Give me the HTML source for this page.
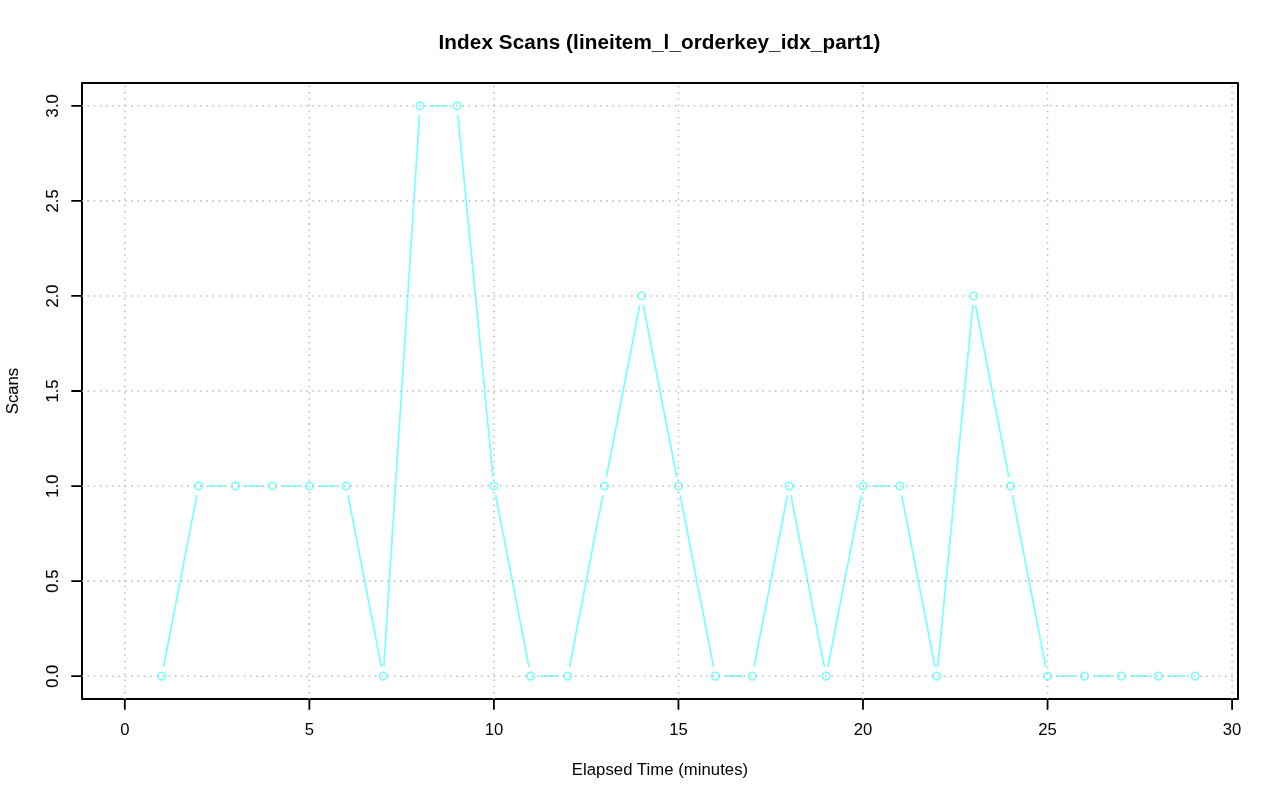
<!DOCTYPE html>
<html lang="en"><head><meta charset="utf-8"><title>Index Scans (lineitem_l_orderkey_idx_part1)</title>
<style>html,body{margin:0;padding:0;background:#fff;overflow:hidden}svg{display:block}text{font-family:'Liberation Sans', Arial, Helvetica, sans-serif;fill:#000}.r{stroke:#000;stroke-width:0.1px}</style></head><body>
<svg width="1280" height="801" viewBox="0 0 1280 801">
<rect width="1280" height="801" fill="#fff"/>
<g stroke="#7FFFFF" stroke-width="1.80" fill="none" stroke-linecap="round">
<line x1="163.63" y1="666.37" x2="196.73" y2="495.88"/>
<line x1="208.63" y1="486.06" x2="225.54" y2="486.06"/>
<line x1="245.54" y1="486.06" x2="262.45" y2="486.06"/>
<line x1="282.45" y1="486.06" x2="299.36" y2="486.06"/>
<line x1="319.36" y1="486.06" x2="336.27" y2="486.06"/>
<line x1="348.18" y1="495.88" x2="381.27" y2="666.37"/>
<line x1="383.83" y1="666.21" x2="419.44" y2="115.79"/>
<line x1="430.09" y1="105.81" x2="447.00" y2="105.81"/>
<line x1="457.96" y1="115.77" x2="492.94" y2="476.11"/>
<line x1="495.81" y1="495.88" x2="528.91" y2="666.37"/>
<line x1="540.82" y1="676.19" x2="557.73" y2="676.19"/>
<line x1="569.63" y1="666.37" x2="602.73" y2="495.88"/>
<line x1="606.54" y1="476.25" x2="639.64" y2="305.75"/>
<line x1="643.45" y1="305.75" x2="676.55" y2="476.25"/>
<line x1="680.36" y1="495.88" x2="713.46" y2="666.37"/>
<line x1="725.36" y1="676.19" x2="742.27" y2="676.19"/>
<line x1="754.18" y1="666.37" x2="787.28" y2="495.88"/>
<line x1="791.09" y1="495.88" x2="824.19" y2="666.37"/>
<line x1="828.00" y1="666.37" x2="861.10" y2="495.88"/>
<line x1="873.00" y1="486.06" x2="889.91" y2="486.06"/>
<line x1="901.82" y1="495.88" x2="934.91" y2="666.37"/>
<line x1="937.79" y1="666.23" x2="972.76" y2="305.89"/>
<line x1="975.64" y1="305.75" x2="1008.73" y2="476.25"/>
<line x1="1012.54" y1="495.88" x2="1045.64" y2="666.37"/>
<line x1="1057.55" y1="676.19" x2="1074.46" y2="676.19"/>
<line x1="1094.46" y1="676.19" x2="1111.37" y2="676.19"/>
<line x1="1131.37" y1="676.19" x2="1148.28" y2="676.19"/>
<line x1="1168.28" y1="676.19" x2="1185.19" y2="676.19"/>
<circle cx="161.72" cy="676.19" r="3.75"/>
<circle cx="198.63" cy="486.06" r="3.75"/>
<circle cx="235.54" cy="486.06" r="3.75"/>
<circle cx="272.45" cy="486.06" r="3.75"/>
<circle cx="309.36" cy="486.06" r="3.75"/>
<circle cx="346.27" cy="486.06" r="3.75"/>
<circle cx="383.18" cy="676.19" r="3.75"/>
<circle cx="420.09" cy="105.81" r="3.75"/>
<circle cx="457.00" cy="105.81" r="3.75"/>
<circle cx="493.91" cy="486.06" r="3.75"/>
<circle cx="530.82" cy="676.19" r="3.75"/>
<circle cx="567.73" cy="676.19" r="3.75"/>
<circle cx="604.64" cy="486.06" r="3.75"/>
<circle cx="641.55" cy="295.94" r="3.75"/>
<circle cx="678.45" cy="486.06" r="3.75"/>
<circle cx="715.36" cy="676.19" r="3.75"/>
<circle cx="752.27" cy="676.19" r="3.75"/>
<circle cx="789.18" cy="486.06" r="3.75"/>
<circle cx="826.09" cy="676.19" r="3.75"/>
<circle cx="863.00" cy="486.06" r="3.75"/>
<circle cx="899.91" cy="486.06" r="3.75"/>
<circle cx="936.82" cy="676.19" r="3.75"/>
<circle cx="973.73" cy="295.94" r="3.75"/>
<circle cx="1010.64" cy="486.06" r="3.75"/>
<circle cx="1047.55" cy="676.19" r="3.75"/>
<circle cx="1084.46" cy="676.19" r="3.75"/>
<circle cx="1121.37" cy="676.19" r="3.75"/>
<circle cx="1158.28" cy="676.19" r="3.75"/>
<circle cx="1195.19" cy="676.19" r="3.75"/>
</g>
<rect x="82" y="83" width="1156" height="616" fill="none" stroke="#000" stroke-width="2.00" stroke-linejoin="round"/>
<g stroke="#000" stroke-width="1.80" stroke-linecap="round" fill="none">
<line x1="124.81" y1="699" x2="1232.09" y2="699"/>
<line x1="124.81" y1="699" x2="124.81" y2="709"/>
<line x1="309.36" y1="699" x2="309.36" y2="709"/>
<line x1="493.91" y1="699" x2="493.91" y2="709"/>
<line x1="678.45" y1="699" x2="678.45" y2="709"/>
<line x1="863.00" y1="699" x2="863.00" y2="709"/>
<line x1="1047.55" y1="699" x2="1047.55" y2="709"/>
<line x1="1232.09" y1="699" x2="1232.09" y2="709"/>
<line x1="82" y1="676.19" x2="82" y2="105.81"/>
<line x1="82" y1="676.19" x2="72" y2="676.19"/>
<line x1="82" y1="581.12" x2="72" y2="581.12"/>
<line x1="82" y1="486.06" x2="72" y2="486.06"/>
<line x1="82" y1="391.00" x2="72" y2="391.00"/>
<line x1="82" y1="295.94" x2="72" y2="295.94"/>
<line x1="82" y1="200.88" x2="72" y2="200.88"/>
<line x1="82" y1="105.81" x2="72" y2="105.81"/>
</g>
<g stroke="#BEBEBE" stroke-width="1.56" fill="none" stroke-dasharray="1.5625 4.6875" stroke-dashoffset="0.78">
<line x1="124.81" y1="699" x2="124.81" y2="83"/>
<line x1="309.36" y1="699" x2="309.36" y2="83"/>
<line x1="493.91" y1="699" x2="493.91" y2="83"/>
<line x1="678.45" y1="699" x2="678.45" y2="83"/>
<line x1="863.00" y1="699" x2="863.00" y2="83"/>
<line x1="1047.55" y1="699" x2="1047.55" y2="83"/>
<line x1="1232.09" y1="699" x2="1232.09" y2="83"/>
<line x1="82" y1="676.19" x2="1236" y2="676.19"/>
<line x1="82" y1="581.12" x2="1236" y2="581.12"/>
<line x1="82" y1="486.06" x2="1236" y2="486.06"/>
<line x1="82" y1="391.00" x2="1236" y2="391.00"/>
<line x1="82" y1="295.94" x2="1236" y2="295.94"/>
<line x1="82" y1="200.88" x2="1236" y2="200.88"/>
<line x1="82" y1="105.81" x2="1236" y2="105.81"/>
</g>
<text x="659.5" y="49" font-size="20.7" font-weight="bold" text-anchor="middle" letter-spacing="0.09">Index Scans (lineitem_l_orderkey_idx_part1)</text>
<text x="660" y="775" font-size="16.67" text-anchor="middle" letter-spacing="0.06">Elapsed Time (minutes)</text>
<text class="r" transform="translate(18.2,391) rotate(-90)" font-size="16.67" text-anchor="middle">Scans</text>
<text x="124.81" y="735" font-size="16.67" text-anchor="middle">0</text>
<text x="309.36" y="735" font-size="16.67" text-anchor="middle">5</text>
<text x="493.91" y="735" font-size="16.67" text-anchor="middle">10</text>
<text x="678.45" y="735" font-size="16.67" text-anchor="middle">15</text>
<text x="863.00" y="735" font-size="16.67" text-anchor="middle">20</text>
<text x="1047.55" y="735" font-size="16.67" text-anchor="middle">25</text>
<text x="1232.09" y="735" font-size="16.67" text-anchor="middle">30</text>
<text class="r" transform="translate(58.2,676.19) rotate(-90)" font-size="16.67" text-anchor="middle">0.0</text>
<text class="r" transform="translate(58.2,581.12) rotate(-90)" font-size="16.67" text-anchor="middle">0.5</text>
<text class="r" transform="translate(58.2,486.06) rotate(-90)" font-size="16.67" text-anchor="middle">1.0</text>
<text class="r" transform="translate(58.2,391.00) rotate(-90)" font-size="16.67" text-anchor="middle">1.5</text>
<text class="r" transform="translate(58.2,295.94) rotate(-90)" font-size="16.67" text-anchor="middle">2.0</text>
<text class="r" transform="translate(58.2,200.88) rotate(-90)" font-size="16.67" text-anchor="middle">2.5</text>
<text class="r" transform="translate(58.2,105.81) rotate(-90)" font-size="16.67" text-anchor="middle">3.0</text>
</svg></body></html>
